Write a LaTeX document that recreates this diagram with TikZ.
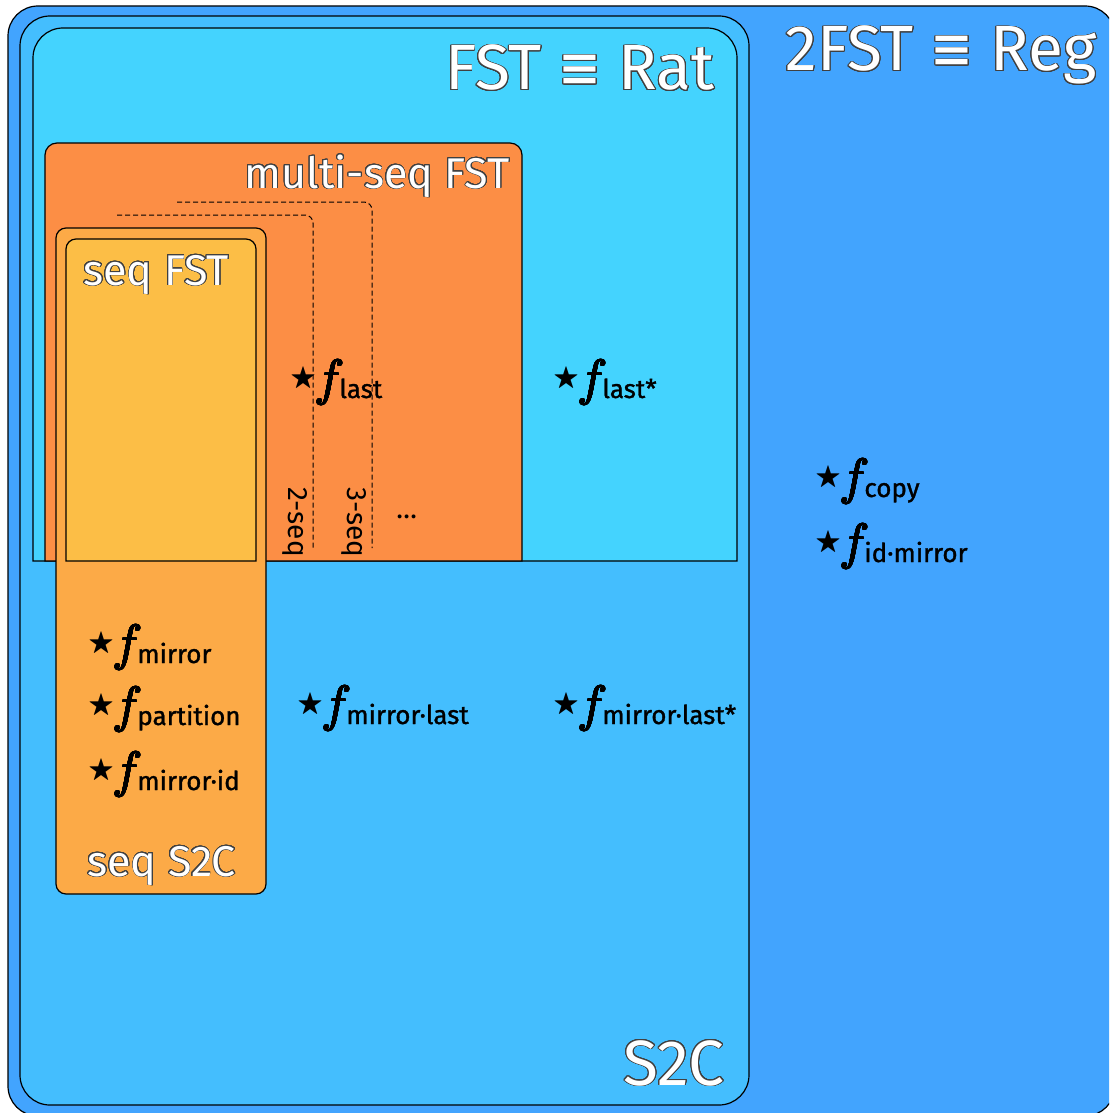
\RequirePackage{fix-cm}
\documentclass[tikz,border=0pt]{standalone}
\usepackage{amsmath,amssymb}
\usepackage{graphicx}
\usepackage[no-math]{fontspec}
\setmainfont{Fira Sans}
\newfontfamily\subf[FakeBold=1.2]{Fira Sans}
\newfontfamily\dvs{DejaVu Sans}
\usepackage{contour}
\contourlength{0.45pt}
\contournumber{24}
\definecolor{cOuter}{HTML}{42A4FE}
\definecolor{cSTC}{HTML}{44BEFE}
\definecolor{cFST}{HTML}{44D3FE}
\definecolor{cMulti}{HTML}{FC8E45}
\definecolor{cSeqS}{HTML}{FCAA47}
\definecolor{cSeqF}{HTML}{FCBE46}
\newcommand\eqv{\scalebox{0.8}[1]{\dvs ≡}}
\newcommand\outl[1]{\contour{black!75}{#1}}
\newcommand\boldf{{\contourlength{0.3pt}\contour{black}{$f$}}}
\newcommand\flab[1]{\raisebox{4.6pt}{\fontsize{13.5}{15}\selectfont$\bigstar$}\kern-0.5pt{\fontsize{25}{29}\selectfont\boldf}\kern-2.5pt\raisebox{-1.5pt}{\fontsize{13}{16}\subf #1}}
\tikzset{
  box/.style={draw=black, line width=0.6pt},
  ttlbig/.style={text=white, inner sep=0pt, font=\fontsize{32}{36}\selectfont},
  ttlsmall/.style={text=white, inner sep=0pt, font=\fontsize{21.5}{26}\selectfont},
  fnode/.style={anchor=base west, inner sep=0pt, text=black},
  seqline/.style={draw=black, dash pattern=on 2.5pt off 1.5pt, line width=0.5pt, rounded corners=4pt},
  seqlab/.style={inner sep=0pt, text=black, font=\fontsize{14}{16}\selectfont}
}
\begin{document}
\begin{tikzpicture}[x=0.5pt,y=-0.5pt]
\useasboundingbox (0,0) rectangle (1109,1113);
\clip (0,0) rectangle (1109,1113);
% boxes
\draw[box, fill=cOuter, rounded corners=15pt] (8,6) rectangle (1115,1116);
\draw[box, fill=cSTC, rounded corners=15pt] (20,16) rectangle (749,1105);
\draw[box, fill=cFST] (33,561) -- (33,400) [rounded corners=15pt] -- (33,28) -- (737,28) -- (737,400) [sharp corners] -- (737,561) -- cycle;
\draw[box, fill=cMulti] (45,561) -- (45,400) [rounded corners=6pt] -- (45,143) -- (522,143) -- (522,400) [sharp corners] -- (522,561) -- cycle;
\draw[box, fill=cSeqS, rounded corners=5pt] (56,228) rectangle (266,894);
\draw[box, fill=cSeqF] (66,561) -- (66,400) [rounded corners=5pt] -- (66,239) -- (256,239) -- (256,400) [sharp corners] -- (256,561) -- cycle;
% dashed k-seq borders
\coordinate (s2a) at (117,215); \coordinate (s2b) at (313,215); \coordinate (s2c) at (313,548);
\coordinate (s3a) at (177,202); \coordinate (s3b) at (372,202); \coordinate (s3c) at (372,548);
\draw[seqline] (s2a) -- (s2b) -- (s2c);
\draw[seqline] (s3a) -- (s3b) -- (s3c);
\node[seqlab, rotate=-90, anchor=base west] (l2) at (288,487) {2-seq};
\node[seqlab, rotate=-90, anchor=base west] (l3) at (347,487) {3-seq};
\node[seqlab, anchor=base west] (ldots) at (396,518) {\ldots};
% titles
\node[ttlbig, anchor=base east] (tReg) at (1097,71) {\outl{2FST \eqv{} Reg}};
\node[ttlbig, anchor=base east] (tRat) at (715,90) {\outl{FST \eqv{} Rat}};
\node[ttlsmall, anchor=base east] (tMulti) at (510,188) {\outl{multi-seq FST}};
\node[ttlsmall, anchor=base west] (tSeqF) at (83,285) {\outl{seq FST}};
\node[ttlsmall, anchor=base west] (tSeqS) at (87,876) {\outl{seq S2C}};
\node[ttlbig, anchor=base east] (tS2C) at (725,1085) {\outl{S2C}};
% functions
\node[fnode] (flast) at (290,395) {\flab{last}};
\node[fnode] (flasts) at (553,395) {\flab{last*}};
\node[fnode] (fcopy) at (815,494) {\flab{copy}};
\node[fnode] (fidm) at (815,559) {\flab{id·mirror}};
\node[fnode] (fmir) at (88,660) {\flab{mirror}};
\node[fnode] (fpart) at (88,722) {\flab{partition}};
\node[fnode] (fmid) at (88,787) {\flab{mirror·id}};
\node[fnode] (fml) at (297,721) {\flab{mirror·last}};
\node[fnode] (fmls) at (553,721) {\flab{mirror·last*}};
\end{tikzpicture}
\end{document}
